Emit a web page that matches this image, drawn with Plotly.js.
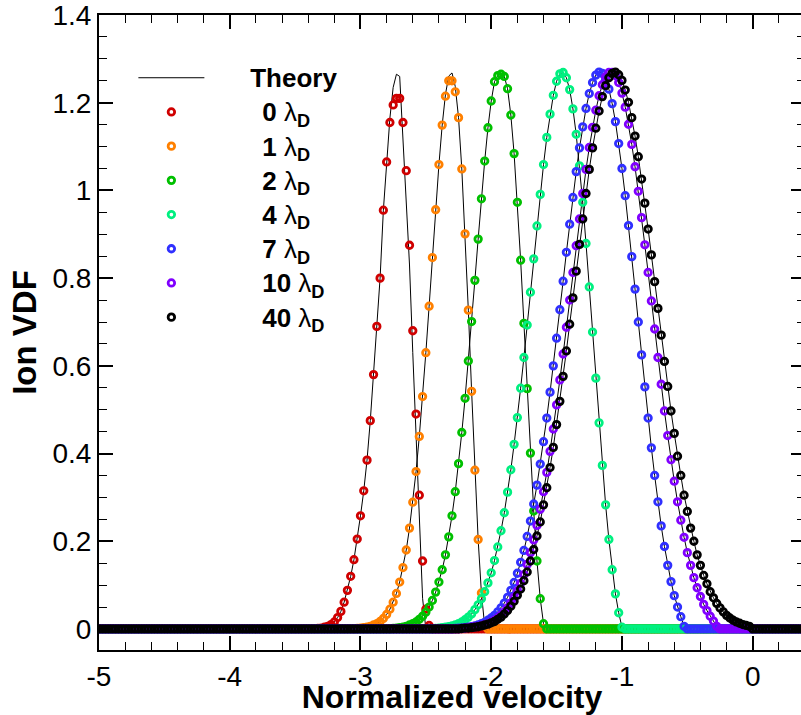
<!DOCTYPE html>
<html><head><meta charset="utf-8">
<script src="https://cdn.plot.ly/plotly-3.0.1.min.js"></script>
<style>html,body{margin:0;padding:0;overflow:hidden;background:#fff}#chart{width:810px;height:715px}</style>
</head><body><div id="chart"></div>
<script>
// Normalized velocity grid (shared by all series)
const velocity = [
-5,-4.975,-4.95,-4.925,-4.9,-4.875,-4.85,-4.825,-4.8,-4.775,-4.75,-4.725,-4.7,-4.675,-4.65,-4.625,-4.6,-4.575,-4.55,-4.525,-4.5,-4.475,-4.45,-4.425,-4.4,-4.375,-4.35,-4.325,-4.3,-4.275,-4.25,-4.225,-4.2,-4.175,-4.15,-4.125,-4.1,-4.075,-4.05,-4.025,
-4,-3.975,-3.95,-3.925,-3.9,-3.875,-3.85,-3.825,-3.8,-3.775,-3.75,-3.725,-3.7,-3.675,-3.65,-3.625,-3.6,-3.575,-3.55,-3.525,-3.5,-3.475,-3.45,-3.425,-3.4,-3.375,-3.35,-3.325,-3.3,-3.275,-3.25,-3.225,-3.2,-3.175,-3.15,-3.125,-3.1,-3.075,-3.05,-3.025,
-3,-2.975,-2.95,-2.925,-2.9,-2.875,-2.85,-2.825,-2.8,-2.775,-2.75,-2.725,-2.7,-2.675,-2.65,-2.625,-2.6,-2.575,-2.55,-2.525,-2.5,-2.475,-2.45,-2.425,-2.4,-2.375,-2.35,-2.325,-2.3,-2.275,-2.25,-2.225,-2.2,-2.175,-2.15,-2.125,-2.1,-2.075,-2.05,-2.025,
-2,-1.975,-1.95,-1.925,-1.9,-1.875,-1.85,-1.825,-1.8,-1.775,-1.75,-1.725,-1.7,-1.675,-1.65,-1.625,-1.6,-1.575,-1.55,-1.525,-1.5,-1.475,-1.45,-1.425,-1.4,-1.375,-1.35,-1.325,-1.3,-1.275,-1.25,-1.225,-1.2,-1.175,-1.15,-1.125,-1.1,-1.075,-1.05,-1.025,
-1,-0.975,-0.95,-0.925,-0.9,-0.875,-0.85,-0.825,-0.8,-0.775,-0.75,-0.725,-0.7,-0.675,-0.65,-0.625,-0.6,-0.575,-0.55,-0.525,-0.5,-0.475,-0.45,-0.425,-0.4,-0.375,-0.35,-0.325,-0.3,-0.275,-0.25,-0.225,-0.2,-0.175,-0.15,-0.125,-0.1,-0.075,-0.05,-0.025,
0,0.025,0.05,0.075,0.1,0.125,0.15,0.175,0.2,0.225,0.25,0.275,0.3,0.325,0.35,0.375,0.4
];

// Ion VDF at 0 lambda_D (simulation)
const vdf0 = [
0,0,0,0,0,0,0,0,0,0, 0,0,0,0,0,0,0,0,0,0, 0,0,0,0,0,0,0,0,0,0, 0,0,0,0,0,0,0,0,0,0,
0,0,0,0,0,0,0,0,0,0, 0,0,0,0,0,0,0,0,0,0, 0,0,0,0,0,0,0, .001,.002,.004,.006,.010,.016,.026,.040,.061,.088,.120,.158,.205,
.258,.315,.385,.475,.58,.69,.80,.955,1.065,1.155, 1.195,1.21,1.21,1.155,1.045,.875,.68,.49,.305,.155, .045,.008, 0,0,0,0,0,0,0,0,0,0, 0,0,0,0,0,0,0,0,
0,0,0,0,0,0,0,0,0,0, 0,0,0,0,0,0,0,0,0,0, 0,0,0,0,0,0,0,0,0,0, 0,0,0,0,0,0,0,0,0,0,
0,0,0,0,0,0,0,0,0,0, 0,0,0,0,0,0,0,0,0,0, 0,0,0,0,0,0,0,0,0,0, 0,0,0,0,0,0,0,0,0,0,
0,0,0,0,0,0,0,0,0,0, 0,0,0,0,0,0,0
];
// Theory at 0 lambda_D
const theory0 = [
0,0,0,0,0,0,0,0,0,0, 0,0,0,0,0,0,0,0,0,0, 0,0,0,0,0,0,0,0,0,0, 0,0,0,0,0,0,0,0,0,0,
0,0,0,0,0,0,0,0,0,0, 0,0,0,0,0,0,0,0,0,0, 0,0,0,0,0,0,0, .001,.002,.004,.006,.010,.016,.026,.040,.061,.088,.120,.158,.205,
.258,.315,.385,.475,.58,.69,.80,.955,1.065,1.165, 1.235,1.265,1.26,1.11,.97,.83,.63,.43,.24,.07, 0,0, 0,0,0,0,0,0,0,0,0,0, 0,0,0,0,0,0,0,0,
0,0,0,0,0,0,0,0,0,0, 0,0,0,0,0,0,0,0,0,0, 0,0,0,0,0,0,0,0,0,0, 0,0,0,0,0,0,0,0,0,0,
0,0,0,0,0,0,0,0,0,0, 0,0,0,0,0,0,0,0,0,0, 0,0,0,0,0,0,0,0,0,0, 0,0,0,0,0,0,0,0,0,0,
0,0,0,0,0,0,0,0,0,0, 0,0,0,0,0,0,0
];
// 1 lambda_D
const vdf1 = [
0,0,0,0,0,0,0,0,0,0, 0,0,0,0,0,0,0,0,0,0, 0,0,0,0,0,0,0,0,0,0, 0,0,0,0,0,0,0,0,0,0,
0,0,0,0,0,0,0,0,0,0, 0,0,0,0,0,0,0,0,0,0, 0,0,0,0,0,0,0,0,0,0, 0,0,0,0,0,0,0,0,0,.001,
.002,.003,.004,.006,.009,.012,.017,.024,.033,.045, .061,.081,.107,.140,.180,.230,.289,.359,.439,.530, .630,.736,.847,.956,1.059,1.149,1.215,1.25,1.25,1.225, 1.166,1.049,.901,.727,.542,.362,.204,.082,.007,0,
0,0,0,0,0,0,0,0,0,0, 0,0,0,0,0,0,0,0,0,0, 0,0,0,0,0,0,0,0,0,0, 0,0,0,0,0,0,0,0,0,0,
0,0,0,0,0,0,0,0,0,0, 0,0,0,0,0,0,0,0,0,0, 0,0,0,0,0,0,0,0,0,0, 0,0,0,0,0,0,0,0,0,0,
0,0,0,0,0,0,0,0,0,0, 0,0,0,0,0,0,0
];
const theory1 = [
0,0,0,0,0,0,0,0,0,0, 0,0,0,0,0,0,0,0,0,0, 0,0,0,0,0,0,0,0,0,0, 0,0,0,0,0,0,0,0,0,0,
0,0,0,0,0,0,0,0,0,0, 0,0,0,0,0,0,0,0,0,0, 0,0,0,0,0,0,0,0,0,0, 0,0,0,0,0,0,0,0,0,.001,
.002,.003,.004,.006,.009,.012,.017,.024,.033,.045, .061,.081,.107,.140,.180,.230,.289,.359,.439,.530, .630,.736,.847,.956,1.059,1.149,1.219,1.261,1.268,1.237, 1.166,1.049,.901,.727,.542,.362,.204,.082,.007,0,
0,0,0,0,0,0,0,0,0,0, 0,0,0,0,0,0,0,0,0,0, 0,0,0,0,0,0,0,0,0,0, 0,0,0,0,0,0,0,0,0,0,
0,0,0,0,0,0,0,0,0,0, 0,0,0,0,0,0,0,0,0,0, 0,0,0,0,0,0,0,0,0,0, 0,0,0,0,0,0,0,0,0,0,
0,0,0,0,0,0,0,0,0,0, 0,0,0,0,0,0,0
];
// 2 lambda_D
const vdf2 = [
0,0,0,0,0,0,0,0,0,0, 0,0,0,0,0,0,0,0,0,0, 0,0,0,0,0,0,0,0,0,0, 0,0,0,0,0,0,0,0,0,0,
0,0,0,0,0,0,0,0,0,0, 0,0,0,0,0,0,0,0,0,0, 0,0,0,0,0,0,0,0,0,0, 0,0,0,0,0,0,0,0,0,0,
0,0,0,0,0,0,0,0,0,0, .001,.002,.003,.004,.006,.009,.012,.016,.022,.029, .038,.050,.065,.084,.107,.135,.169,.210,.258,.313, .377,.448,.526,.611,.701,.795,.889,.981,1.067,1.143,
1.204,1.248,1.262,1.265,1.260,1.232,1.172,1.084,.973,.841, .697,.548,.401,.269,.155,.069,.012, 0,0,0, 0,0,0,0,0,0,0,0,0,0, 0,0,0,0,0,0,0,0,0,0,
0,0,0,0,0,0,0,0,0,0, 0,0,0,0,0,0,0,0,0,0, 0,0,0,0,0,0,0,0,0,0, 0,0,0,0,0,0,0,0,0,0,
0,0,0,0,0,0,0,0,0,0, 0,0,0,0,0,0,0
];
// 4 lambda_D
const vdf4 = [
0,0,0,0,0,0,0,0,0,0, 0,0,0,0,0,0,0,0,0,0, 0,0,0,0,0,0,0,0,0,0, 0,0,0,0,0,0,0,0,0,0,
0,0,0,0,0,0,0,0,0,0, 0,0,0,0,0,0,0,0,0,0, 0,0,0,0,0,0,0,0,0,0, 0,0,0,0,0,0,0,0,0,0,
0,0,0,0,0,0,0,0,0,0, 0,0,0,0,0,0,0,0,0,0, 0,0,0, .001,.002,.003,.004,.005,.007,.009,.012,.016,.021,.027,.034,.044,.055,.069,.085,.105,
.128,.156,.187,.224,.265,.312,.363,.421,.482,.549, .619,.693,.768,.844,.919,.991,1.059,1.121,1.174,1.217, 1.249,1.266,1.269,1.257,1.230,1.186,1.128,1.056,.973,.879, .780,.677,.572,.470,.373,.283,.204,.135,.080,.037,
.004,0,0,0,0,0,0,0,0,0, 0,0,0,0,0,0,0,0,0,0, 0,0,0,0,0,0,0,0,0,0, 0,0,0,0,0,0,0,0,0,0,
0,0,0,0,0,0,0,0,0,0, 0,0,0,0,0,0,0
];
// 7 lambda_D
const vdf7 = [
0,0,0,0,0,0,0,0,0,0, 0,0,0,0,0,0,0,0,0,0, 0,0,0,0,0,0,0,0,0,0, 0,0,0,0,0,0,0,0,0,0,
0,0,0,0,0,0,0,0,0,0, 0,0,0,0,0,0,0,0,0,0, 0,0,0,0,0,0,0,0,0,0, 0,0,0,0,0,0,0,0,0,0,
0,0,0,0,0,0,0,0,0,0, 0,0,0,0,0,0,0,0,0,0, 0,0,0,0,0,0,0,0,0, .001,.002,.002,.003,.004,.005,.007,.009,.012,.015,.020,
.025,.031,.039,.048,.059,.072,.088,.106,.127,.152, .179,.211,.246,.285,.328,.376,.427,.481,.540,.600, .663,.728,.793,.859,.923,.984,1.043,1.097,1.145,1.187, 1.221,1.246,1.263,1.270,1.267,1.253,1.231,1.198,1.157,1.107,
1.050,.988,.920,.849,.775,.700,.625,.552,.481,.413, .350,.290,.235,.188,.145,.108,.076,.050,.028,.006, 0,0,0,0,0,0,0,0,0,0, 0,0,0,0,0,0,0,0,0,0,
0,0,0,0,0,0,0,0,0,0, 0,0,0,0,0,0,0
];
// 10 lambda_D
const vdf10 = [
0,0,0,0,0,0,0,0,0,0, 0,0,0,0,0,0,0,0,0,0, 0,0,0,0,0,0,0,0,0,0, 0,0,0,0,0,0,0,0,0,0,
0,0,0,0,0,0,0,0,0,0, 0,0,0,0,0,0,0,0,0,0, 0,0,0,0,0,0,0,0,0,0, 0,0,0,0,0,0,0,0,0,0,
0,0,0,0,0,0,0,0,0,0, 0,0,0,0,0,0,0,0,0,0, 0,0,0,0,0,0,0,0,0,0, 0, .001,.002,.003,.004,.005,.006,.008,.010,.012,
.016,.020,.025,.031,.039,.048,.059,.072,.087,.104, .124,.147,.174,.203,.236,.273,.313,.357,.405,.456, .511,.568,.627,.688,.750,.813,.874,.935,.993,1.048, 1.098,1.144,1.183,1.216,1.241,1.259,1.269,1.269,1.262,1.246,
1.222,1.190,1.151,1.105,1.054,.998,.938,.876,.813,.748, .684,.619,.558,.497,.441,.386,.337,.290,.248,.209, .174,.145,.117,.094,.074,.056,.042,.029,.018,.006, 0,0,0,0,0,0,0,0,0,0,
0,0,0,0,0,0,0,0,0,0, 0,0,0,0,0,0,0
];
// 40 lambda_D
const vdf40 = [
0,0,0,0,0,0,0,0,0,0, 0,0,0,0,0,0,0,0,0,0, 0,0,0,0,0,0,0,0,0,0, 0,0,0,0,0,0,0,0,0,0,
0,0,0,0,0,0,0,0,0,0, 0,0,0,0,0,0,0,0,0,0, 0,0,0,0,0,0,0,0,0,0, 0,0,0,0,0,0,0,0,0,0,
0,0,0,0,0,0,0,0,0,0, 0,0,0,0,0,0,0,0,0,0, 0,0,0,0,0,0,0,0,0,0, 0, .001,.002,.002,.003,.004,.005,.007,.009,.011,
.014,.017,.022,.027,.034,.042,.052,.063,.077,.091, .110,.130,.155,.181,.212,.244,.283,.322,.368,.414, .466,.519,.576,.634,.695,.755,.816,.877,.935,.993, 1.048,1.097,1.142,1.181,1.214,1.239,1.257,1.267,1.270,1.264,
1.251,1.229,1.201,1.166,1.124,1.077,1.026,.971,.912,.853, .792,.731,.670,.610,.553,.497,.446,.394,.350,.305, .268,.230,.200,.169,.145,.122,.103,.085,.071,.058, .048,.039,.031,.025,.020,.016,.013,.010,.008,.006,
0,0,0,0,0,0,0,0,0,0, 0,0,0,0,0,0,0
];

const seriesLabels = ['0','1','2','4','7','10','40'];
const seriesColors = ['#d00000','#ff8000','#00c000','#00f080','#3030ff','#8000ff','#000000'];
const seriesData = [vdf0, vdf1, vdf2, vdf4, vdf7, vdf10, vdf40];
const theoryData = [theory0, theory1, vdf2, vdf4, vdf7, vdf10, vdf40];

const xTickVals = [-5,-4,-3,-2,-1,0];
const xTickText = ['-5','-4','-3','-2','-1','0'];
const yTickVals = [0,0.2,0.4,0.6,0.8,1,1.2,1.4];
const yTickText = ['0','0.2','0.4','0.6','0.8','1','1.2','1.4'];

[...seriesData, ...theoryData].forEach((a,k)=>{ if(a.length!==velocity.length) throw new Error('length mismatch in array '+k+': '+a.length); });

const FONT = 'Liberation Sans, Arial, Helvetica, sans-serif';
const SP = '<span style="font-size:26px">';
const traces = [];
theoryData.forEach((y,k)=>{
  traces.push({x: velocity, y: y, type:'scatter', mode:'lines',
    name: '\u2003\u2002\u2009' + SP + '<b>Theory</b></span>',
    line:{color:'#000', width:1}, showlegend: k===0, hoverinfo:'skip'});
});
seriesData.forEach((y,k)=>{
  traces.push({x: velocity, y: y, type:'scatter', mode:'markers',
    name: '\u2003\u2003\u2009' + SP + '<b>' + seriesLabels[k] + '</b> λ<sub><b>D</b></sub></span>',
    marker:{symbol:'circle-open', size:6.5, color: seriesColors[k], line:{width:2.8, color: seriesColors[k]}}});
});

const axisCommon = {
  showline:true, linewidth:2, linecolor:'#000', mirror:'allticks',
  ticks:'inside', ticklen:14, tickwidth:2, tickcolor:'#000',
  showgrid:false, zeroline:false, ticklabeloverflow:'allow',
  tickfont:{family:FONT, size:28, color:'#000'}
};
const layout = {
  width:810, height:715,
  margin:{l:99, r:5, t:15, b:65},
  paper_bgcolor:'#fff', plot_bgcolor:'#fff',
  font:{family:FONT, color:'#000'},
  xaxis: Object.assign({}, axisCommon, {
    range:[-5,0.4], tickmode:'array', tickvals:xTickVals, ticktext:xTickText,
    minor:{tickmode:'linear', tick0:-5, dtick:0.2, ticks:'inside', ticklen:8, tickwidth:1, tickcolor:'#000'},
    title:{text:'<b>Normalized velocity</b>', font:{family:FONT, size:32, color:'#000'}, standoff:5}
  }),
  yaxis: Object.assign({}, axisCommon, {
    range:[-0.048,1.4001], tickmode:'array', tickvals:yTickVals, ticktext:yTickText,
    minor:{tickmode:'linear', tick0:0, dtick:0.05, ticks:'inside', ticklen:8, tickwidth:1, tickcolor:'#000'},
    title:{text:'<b>Ion VDF</b>', font:{family:FONT, size:33, color:'#000'}, standoff:6}
  }),
  showlegend:true,
  legend:{x:0.0487, y:0.936, xanchor:'left', yanchor:'top', bgcolor:'rgba(0,0,0,0)', borderwidth:0,
    font:{family:FONT, size:24, color:'#000'}, itemwidth:66, traceorder:'normal'}
};
Plotly.newPlot('chart', traces, layout, {displayModeBar:false, responsive:false});
</script>
</body></html>
